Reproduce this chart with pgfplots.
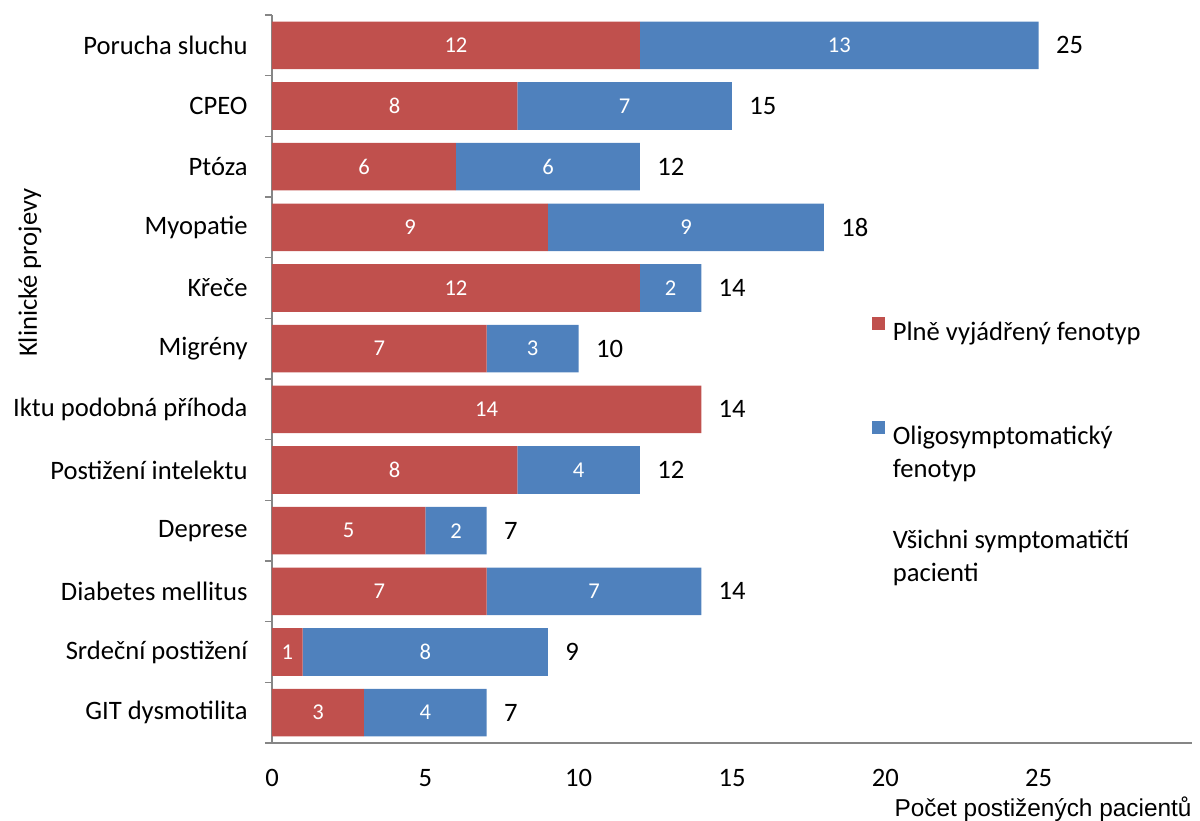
\documentclass[border=0pt]{standalone}
\usepackage{fontspec}
\setmainfont{Carlito}
\newfontfamily\arialfont{Liberation Sans}
\usepackage{pgfplots}
\usepackage{pgfplotstable}
\pgfplotsset{compat=1.18}
\definecolor{cred}{HTML}{C0504D}
\definecolor{cblue}{HTML}{4F81BD}
\definecolor{axgray}{HTML}{868686}

\pgfplotstableread{
idx red blue total redl bluel
0 12 13 25 12 13
1 8 7 15 8 7
2 6 6 12 6 6
3 9 9 18 9 9
4 12 2 14 12 2
5 7 3 10 7 3
6 14 0 14 14 {}
7 8 4 12 8 4
8 5 2 7 5 2
9 7 7 14 7 7
10 1 8 9 1 8
11 3 4 7 3 4
}\datatable

\newcommand{\lf}{\fontsize{13.3}{16.5}\selectfont}
\begin{document}
\begin{tikzpicture}
\useasboundingbox (-136pt,-38.5pt) rectangle (464pt,371.5pt);
\begin{axis}[
  at={(0,0)}, anchor=south west,
  scale only axis,
  width=460pt, height=364pt,
  xmin=0, xmax=30,
  ymin=-0.5, ymax=11.5,
  y dir=reverse,
  axis x line*=bottom,
  axis y line*=left,
  axis line style={axgray, line width=0.8pt},
  xtick={0,5,10,15,20,25},
  ytick={0,...,11},
  yticklabels={Porucha sluchu, CPEO, Ptóza, Myopatie, Křeče, Migrény, Iktu podobná příhoda, Postižení intelektu, Deprese, Diabetes mellitus, Srdeční postižení, GIT dysmotilita},
  minor ytick={-0.5,0.5,...,11.5},
  major tick length=0pt,
  minor tick length=3.5pt,
  tick align=outside,
  minor tick style={axgray, line width=0.8pt},
  /pgf/number format/assume math mode=true,
  tick label style={font=\lf, inner sep=0pt, black},
  yticklabel style={anchor=east, xshift=-12pt},
  xticklabel style={anchor=north, yshift=-13pt},
  xlabel={Počet postižených pacientů},
  xlabel style={at={(rel axis cs:1,0)}, anchor=base east, inner sep=0pt, yshift=-36.5pt, xshift=0pt, font=\arialfont\fontsize{12.2}{14}\selectfont},
  ylabel={Klinické projevy},
  ylabel style={at={(axis description cs:-0.263,0.646)}, anchor=center, inner sep=0pt, font=\lf},
  xbar stacked,
  bar width=23.8pt,
  legend cell align=left,
  legend style={draw=none, fill=none, at={(rel axis cs:0.652,0.5907)}, anchor=north west, inner sep=0pt, outer sep=0pt, row sep=35pt, column sep=2pt, font=\lf},
  legend image code/.code={\path[draw=none,#1] (0pt,0pt) rectangle (6.5pt,6.5pt);},
]
\addplot[fill=cred, draw=none,
  point meta=explicit symbolic,
  nodes near coords,
  every node near coord/.append style={anchor=center, white, font=\fontsize{11.3}{13}\selectfont},
] table[x=red, y=idx, meta=redl] {\datatable};
\addlegendentry{\parbox[t]{130pt}{\strut Plně vyjádřený fenotyp\\\mbox{}\strut}}
\addplot[fill=cblue, draw=none,
  point meta=explicit symbolic,
  nodes near coords,
  every node near coord/.append style={anchor=center, white, font=\fontsize{11.3}{13}\selectfont},
] table[x=blue, y=idx, meta=bluel] {\datatable};
\addlegendentry{\parbox[t]{130pt}{\strut Oligosymptomatický\\fenotyp\strut}}
\addplot[stack plots=false, fill=none, draw=none,
  point meta=explicit symbolic,
  visualization depends on={\thisrow{total} \as \totv},
  nodes near coords,
  every node near coord/.append style={anchor=west, black, inner sep=0pt, font=\lf, xshift={0.5*\totv*15.33333pt+8.5pt}},
] table[x=total, y=idx, meta=total] {\datatable};
\addlegendentry{\parbox[t]{130pt}{\strut Všichni symptomatičtí\\pacienti\strut}}
\end{axis}
\end{tikzpicture}
\end{document}
